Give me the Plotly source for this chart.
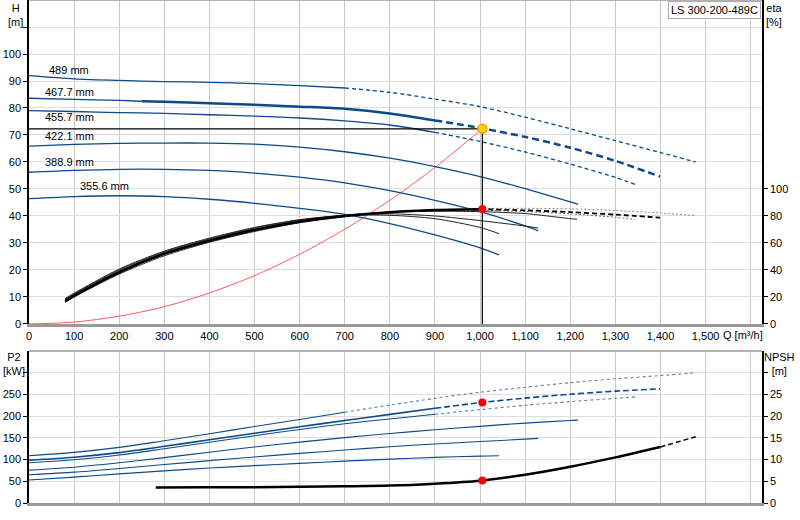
import plotly.graph_objects as go

# impeller diameters and their head curves H [m] vs Q [m3/h]
q_489 = [0, 100, 200, 300, 400, 500, 600, 700, 800, 900, 1000, 1100, 1200, 1300, 1400, 1478]
h_489 = [92.0, 90.8, 90.2, 89.8, 89.5, 89.0, 88.3, 87.4, 85.8, 83.3, 80.5, 76.6, 72.3, 67.9, 63.5, 60.0]

q_467 = [0, 100, 200, 250, 300, 400, 500, 600, 700, 800, 900, 1000, 1100, 1200, 1300, 1399]
h_467 = [83.6, 83.2, 82.8, 82.5, 82.3, 81.8, 81.2, 80.5, 79.7, 78.0, 75.4, 72.6, 69.3, 65.3, 60.4, 54.6]

q_455 = [0, 100, 200, 300, 400, 500, 600, 700, 800, 900, 1000, 1100, 1200, 1300, 1344]
h_455 = [79.0, 78.7, 78.3, 78.0, 77.5, 77.0, 76.3, 75.2, 73.7, 71.0, 67.6, 63.7, 59.2, 54.3, 51.7]

q_422 = [0, 100, 200, 300, 400, 500, 600, 700, 800, 900, 1000, 1100, 1200, 1217]
h_422 = [65.9, 66.5, 66.9, 67.0, 67.0, 66.6, 65.5, 63.8, 61.4, 58.3, 54.6, 50.1, 45.2, 44.4]

q_388 = [0, 100, 200, 300, 400, 500, 600, 700, 800, 900, 1000, 1100, 1129]
h_388 = [56.2, 56.9, 57.3, 57.3, 56.9, 55.9, 54.4, 52.3, 49.4, 45.8, 41.6, 36.3, 34.5]

q_355 = [0, 100, 200, 300, 400, 500, 600, 700, 800, 900, 1000, 1042]
h_355 = [46.4, 47.2, 47.5, 47.2, 46.2, 44.7, 42.8, 40.6, 37.2, 33.0, 28.2, 25.6]

# efficiency curves eta [%]
eq_489 = [80, 100, 200, 300, 400, 500, 600, 700, 800, 900, 1000, 1100, 1200, 1300, 1400, 1478]
eta_489 = [16.0, 20.0, 37.0, 50.5, 60.5, 68.5, 75.0, 79.5, 82.6, 84.6, 85.5, 85.7, 85.3, 84.0, 82.2, 80.2]
eq_467 = [80, 100, 200, 300, 400, 500, 600, 700, 800, 900, 1000, 1100, 1200, 1300, 1399]
eta_467 = [16.8, 20.8, 38.3, 51.9, 61.7, 69.6, 75.8, 80.0, 82.8, 84.4, 85.0, 84.2, 82.9, 81.0, 78.8]
eq_455 = [80, 100, 200, 300, 400, 500, 600, 700, 800, 900, 1000, 1100, 1200, 1300, 1344]
eta_455 = [17.2, 21.2, 38.8, 52.3, 62.0, 70.0, 76.2, 80.3, 82.9, 84.0, 84.1, 83.3, 81.6, 79.0, 77.5]
eq_422 = [80, 100, 200, 300, 400, 500, 600, 700, 800, 900, 1000, 1100, 1200, 1215]
eta_422 = [17.8, 21.8, 39.3, 52.8, 62.4, 70.4, 76.5, 80.6, 82.8, 83.5, 83.2, 81.8, 78.0, 77.6]
eq_388 = [80, 100, 200, 300, 400, 500, 600, 700, 800, 900, 1000, 1100, 1129]
eta_388 = [18.3, 22.3, 40.0, 53.4, 63.0, 71.0, 77.0, 80.5, 81.6, 80.0, 76.6, 72.5, 71.1]
eq_355 = [80, 100, 200, 300, 400, 500, 600, 700, 800, 900, 1000, 1042]
eta_355 = [18.8, 22.8, 40.7, 54.0, 63.6, 71.5, 77.3, 80.4, 80.5, 78.0, 71.5, 66.9]

# system curve
sys_q = [0, 100, 200, 300, 400, 500, 600, 700, 800, 900, 1000, 1005]
sys_h = [0, 0.7, 2.9, 6.4, 11.5, 17.9, 25.8, 35.1, 45.8, 58.0, 71.6, 72.3]

# duty point
duty_q = 1005
duty_h = 72.3
duty_eta = 85.2
duty_p2 = 231.5
duty_npsh = 5.2

# shaft power P2 [kW]
p_489 = [108.7, 116.5, 128.0, 143.5, 159.5, 176.0, 192.4, 209.0, 225.5, 241.0, 255.0, 266.5, 277.0, 286.0, 293.5, 299.7]
p_467 = [98.6, 105.5, 116.0, 123.0, 130.5, 145.5, 160.5, 175.4, 190.0, 204.0, 218.0, 231.0, 241.5, 250.5, 257.5, 262.8]
p_455 = [92.5, 99.5, 110.5, 125.0, 140.0, 155.0, 169.4, 182.5, 193.5, 204.5, 215.0, 225.0, 233.5, 241.0, 244.4]
p_422 = [75.7, 82.5, 92.5, 104.5, 117.0, 129.0, 140.2, 150.5, 160.0, 168.5, 176.5, 184.0, 190.0, 190.8]
p_388 = [65.0, 71.0, 79.5, 88.5, 97.5, 106.0, 114.2, 122.0, 129.5, 136.0, 141.5, 147.0, 148.7]
p_355 = [52.8, 59.5, 67.0, 74.0, 80.5, 86.0, 91.3, 96.5, 101.0, 105.0, 108.0, 108.7]

# NPSH [m]
npsh_q = [281, 400, 500, 600, 700, 800, 900, 1000, 1100, 1200, 1300, 1400, 1478]
npsh_v = [3.55, 3.6, 3.65, 3.75, 3.85, 4.0, 4.45, 5.15, 6.5, 8.35, 10.5, 12.9, 15.25]

labels = ['489 mm', '467.7 mm', '455.7 mm', '422.1 mm', '388.9 mm', '355.6 mm']
label_q = [40, 31, 31, 31, 31, 109]
label_h = [94.0, 85.8, 76.6, 69.6, 60.0, 51.1]

x_ticks = list(range(0, 1700, 100))
x_text = ['{:,}'.format(v) for v in x_ticks[:-1]] + ['']

BLUE = '#0b4a8b'
FONT = 'Liberation Sans, Arial, sans-serif'

fig = go.Figure()


def add(x, y, color, width, dash='solid', xa='x', ya='y'):
    fig.add_trace(go.Scatter(x=x, y=y, mode='lines', xaxis=xa, yaxis=ya,
                             line=dict(color=color, width=width, dash=dash, shape='spline', smoothing=0.8),
                             showlegend=False, hoverinfo='skip'))


def add_split(x, y, q_from, color, width, dash, xa='x', ya='y', color2=None, width2=None):
    s = [i for i, q in enumerate(x) if q <= q_from]
    d = [i for i, q in enumerate(x) if q >= q_from]
    add([x[i] for i in s], [y[i] for i in s], color, width, 'solid', xa, ya)
    add([x[i] for i in d], [y[i] for i in d], color2 or color, width2 or width, dash, xa, ya)


# efficiency curves (right axis)
add_split(eq_489, eta_489, 700, '#333333', 1, '2px,2px', ya='y2', color2='#888888')
add_split(eq_455, eta_455, 900, '#333333', 1, '2px,2px', ya='y2', color2='#666666')
add(eq_422, eta_422, '#222222', 1, ya='y2')
add(eq_388, eta_388, '#222222', 1, ya='y2')
add(eq_355, eta_355, '#222222', 1, ya='y2')
add_split(eq_467, eta_467, 1000, 'black', 2.5, '5px,3px', ya='y2', width2=1.8)

# system curve
add(sys_q, sys_h, '#ff5a5a', 1)

# head curves
add_split(q_489, h_489, 700, BLUE, 1.3, '4px,3px')
add_split(q_455, h_455, 900, BLUE, 1.3, '4px,3px')
add(q_422, h_422, BLUE, 1.3)
add(q_388, h_388, BLUE, 1.3)
add(q_355, h_355, BLUE, 1.3)
add(q_467[:4], h_467[:4], BLUE, 1.3)
add_split(q_467[3:], h_467[3:], 900, BLUE, 2.5, '7px,4px')

# duty point lines
fig.add_trace(go.Scatter(x=[0, duty_q, duty_q], y=[duty_h, duty_h, 0], mode='lines',
                         line=dict(color='black', width=1.2), showlegend=False, hoverinfo='skip'))

fig.add_trace(go.Scatter(x=[duty_q], y=[duty_eta], mode='markers', yaxis='y2', showlegend=False,
                         marker=dict(color='#ff0000', size=8), hoverinfo='skip'))
fig.add_trace(go.Scatter(x=[duty_q], y=[duty_h], mode='markers', showlegend=False,
                         marker=dict(color='#ffd21f', size=9, line=dict(color='#ff9a00', width=1.5)),
                         hoverinfo='skip'))

# power curves
add_split(q_489, p_489, 700, BLUE, 1.1, '3px,3px', xa='x2', ya='y3', color2='#5d7ea6')
add_split(q_467, p_467, 900, BLUE, 1.6, '6px,3px', xa='x2', ya='y3')
add_split(q_455, p_455, 900, BLUE, 1.1, '3px,3px', xa='x2', ya='y3', color2='#5d7ea6')
add(q_422, p_422, BLUE, 1.1, xa='x2', ya='y3')
add(q_388, p_388, BLUE, 1.1, xa='x2', ya='y3')
add(q_355, p_355, BLUE, 1.1, xa='x2', ya='y3')

# NPSH curve
add_split(npsh_q, npsh_v, 1400, 'black', 2.5, '5px,3px', xa='x2', ya='y4', width2=1.5)

fig.add_trace(go.Scatter(x=[duty_q], y=[duty_p2], mode='markers', xaxis='x2', yaxis='y3',
                         showlegend=False, marker=dict(color='#ff0000', size=8), hoverinfo='skip'))
fig.add_trace(go.Scatter(x=[duty_q], y=[duty_npsh], mode='markers', xaxis='x2', yaxis='y4',
                         showlegend=False, marker=dict(color='#ff0000', size=8), hoverinfo='skip'))

for t, q, h in zip(labels, label_q, label_h):
    fig.add_annotation(x=q, y=h, xref='x', yref='y', text=t, showarrow=False,
                       xanchor='left', yanchor='middle', font=dict(size=11, color='black'))

TOP_DOM = [0.3559, 1]
BOT_DOM = [0, 0.3022]

ax_common = dict(range=[0, 1625], tickvals=x_ticks, gridcolor='#cbcbcb', gridwidth=1,
                 zeroline=False, showline=True, linecolor='#999999', linewidth=3, ticks='',
                 automargin=False)
y_common = dict(zeroline=False, showline=True, linecolor='black', linewidth=1.5,
                ticks='outside', ticklen=4, tickcolor='black', automargin=False)
fig.update_layout(
    width=800, height=520,
    margin=dict(l=29, r=38, t=0, b=17),
    paper_bgcolor='white', plot_bgcolor='white',
    font=dict(family=FONT, size=11, color='black'),
    xaxis=dict(domain=[0, 1], anchor='y', ticktext=x_text, **ax_common),
    yaxis=dict(domain=TOP_DOM, anchor='x', range=[0, 120], tickvals=list(range(0, 120, 10)),
               ticktext=[str(v) for v in range(0, 110, 10)] + [''], gridcolor='#dedede', **y_common),
    yaxis2=dict(overlaying='y', side='right', anchor='x', range=[0, 240],
                tickvals=list(range(0, 120, 20)), showgrid=False, **y_common),
    xaxis2=dict(domain=[0, 1], anchor='y3', showticklabels=False, **ax_common),
    yaxis3=dict(domain=BOT_DOM, anchor='x2', range=[0, 350], tickvals=list(range(0, 350, 50)),
                ticktext=[str(v) for v in range(0, 300, 50)] + [''], gridcolor='#dedede', **y_common),
    yaxis4=dict(overlaying='y3', side='right', anchor='x2', range=[0, 35],
                tickvals=list(range(0, 35, 5)), ticktext=[str(v) for v in range(0, 30, 5)] + [''],
                showgrid=False, **y_common),
)

# frame tops of both panels
fig.add_shape(type='line', xref='paper', yref='paper', x0=0, x1=1, y0=1, y1=1,
              line=dict(color='#999999', width=1.5))
fig.add_shape(type='line', xref='paper', yref='paper', x0=0, x1=1, y0=BOT_DOM[1], y1=BOT_DOM[1],
              line=dict(color='#999999', width=1.5))

side_titles = [('H<br>[m]', -0.018, 1.0), ('eta<br>[%]', 1.017, 1.0),
               ('P2<br>[kW]', -0.021, 0.306), ('NPSH<br>[m]', 1.0245, 0.306)]
for t, x, y in side_titles:
    fig.add_annotation(x=x, y=y, xref='paper', yref='paper', text=t, showarrow=False,
                       xanchor='center', yanchor='top', align='center',
                       font=dict(size=11, color='black'))

fig.add_annotation(x=0.9445, y=0.334, xref='paper', yref='paper', text='Q [m³/h]',
                   xanchor='left', showarrow=False, font=dict(size=11, color='black'))
fig.add_annotation(x=0.999, y=0.999, xref='paper', yref='paper', text='LS 300-200-489C',
                   showarrow=False, xanchor='right', yanchor='top', bgcolor='white',
                   bordercolor='#aaaaaa', borderwidth=1, borderpad=2,
                   font=dict(size=11, color='black'))

# drop the browser's default 8px body margin so the figure sits at the page corner
fig.write_html('out.html', config={'displayModeBar': False},
               post_script="document.body.style.margin = '0px';")
